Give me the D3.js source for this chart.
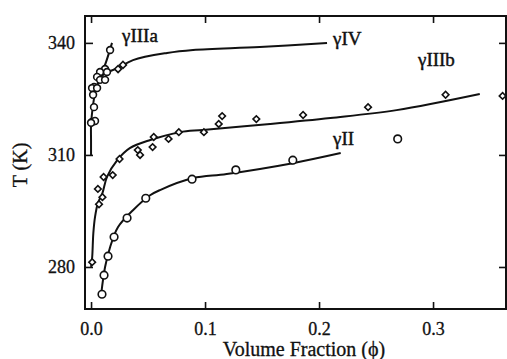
<!DOCTYPE html>
<html>
<head>
<meta charset="utf-8">
<script src="https://cdn.jsdelivr.net/npm/d3@7"></script>
<style>
  html,body{margin:0;padding:0;background:#fff;}
  svg{display:block;font-family:"Liberation Serif","DejaVu Serif",serif;}
  .tick-lab{font-size:18px;fill:#111;stroke:#111;stroke-width:0.3;}
  .ax-title{font-size:20px;fill:#111;stroke:#111;stroke-width:0.3;}
  .cur-lab{font-size:19px;fill:#111;stroke:#111;stroke-width:0.45;}
</style>
</head>
<body>
<svg id="chart" width="507" height="359"></svg>
<script>
// ── data (φ = volume fraction, T in K) ──
// γIIIa : circles, steep branch near φ≈0
const phiIIIa=[0.0167,0.0123,0.0079,0.0053,0.0079,0.0123,0.0026,0.0009,0.0053,0.0018,0.0026,0.0009,0.0035,0.0000,0.0140];
const tIIIa  =[338.1, 333.0, 332.2, 330.9, 330.1, 330.1, 328.2, 327.9, 327.9, 326.1, 322.8, 318.8, 319.1, 318.6, 332.2];
const fitPhiIIIa=[0.0000,0.0000,0.0000,0.0018,0.0044,0.0079,0.0132,0.0184];
const fitTIIIa  =[310.0, 314.0, 318.0, 323.4, 328.0, 330.6, 334.9, 340.0];

// γIV : diamonds
const phiIV=[0.0237,0.0280];
const tIV  =[333.0, 334.1];
const fitPhiIV=[0.0050,0.0105,0.0237,0.0368,0.0667,0.0895,0.1480,0.2070];
const fitTIV  =[328.2, 331.4, 333.3, 335.4, 337.3, 338.1, 338.9, 340.0];

// γIIIb : small diamonds
const phiIIIb=[0.001,0.007,0.010,0.006,0.011,0.019,0.025,0.041,0.043,0.054,0.055,0.068,0.077,0.099,0.112,0.115,0.145,0.186,0.243,0.311,0.361];
const tIIIb  =[281.3,296.8,298.7,300.9,304.1,304.6,308.9,311.3,310.0,312.1,314.8,314.3,316.1,316.1,318.3,320.4,319.6,320.7,322.8,326.1,325.8];
const fitPhiIIIb=[0.000,0.001,0.002,0.0035,0.006,0.010,0.014,0.023,0.034,0.052,0.078,0.098,0.157,0.210,0.268,0.341];
const fitTIIIb  =[280.0,282.6,289.0,293.4,297.1,299.8,304.1,308.6,311.8,314.0,316.1,316.7,318.3,319.9,322.0,326.3];

// γII : circles
const phiII=[0.0096,0.0114,0.0149,0.0202,0.0316,0.048,0.0886,0.127,0.177,0.269];
const tII  =[272.7, 277.8, 282.9, 288.0, 293.1, 298.4,303.5, 306.0,308.6,314.3];
const fitPhiII=[0.0090,0.0123,0.0167,0.0237,0.0368,0.0518,0.0605,0.0895,0.119,0.177,0.219];
const fitTII  =[273.0, 280.0, 285.3, 290.7, 295.2, 299.2, 300.6, 303.8, 304.9,307.8,310.5];

const xTicks=[0.0,0.1,0.2,0.3];
const yTicks=[280,310,340];

// ── layout ──
const L=85,R=506,T=16,B=309;
const svg=d3.select("#chart");
const x=d3.scaleLinear().domain([-0.0053,0.3640]).range([L,R]);
const y=d3.scaleLinear().domain([268.75,347.2]).range([B,T]);

// frame
svg.append("rect").attr("x",L).attr("y",T).attr("width",R-L).attr("height",B-T)
  .attr("fill","none").attr("stroke","#111").attr("stroke-width",2);

// axes with inward ticks (drop d3's default font attrs so the serif css applies)
const ax=(g,a)=>g.call(a).attr("font-family",null).attr("font-size",null)
  .call(s=>s.select(".domain").remove())
  .call(s=>s.selectAll(".tick line").attr("stroke","#111").attr("stroke-width",1.6))
  .call(s=>s.selectAll(".tick text").attr("class","tick-lab").attr("fill",null));
svg.append("g").attr("transform",`translate(0,${B})`)
  .call(g=>ax(g,d3.axisBottom(x).tickValues(xTicks).tickFormat(d3.format(".1f")).tickSizeInner(-7).tickPadding(13)));
svg.append("g").attr("transform",`translate(0,${T})`)
  .call(g=>ax(g,d3.axisTop(x).tickValues(xTicks).tickSizeInner(-7).tickFormat("")));
svg.append("g").attr("transform",`translate(${L},0)`)
  .call(g=>ax(g,d3.axisLeft(y).tickValues(yTicks).tickSizeInner(-8).tickPadding(10)));
svg.append("g").attr("transform",`translate(${R},0)`)
  .call(g=>ax(g,d3.axisRight(y).tickValues(yTicks).tickSizeInner(-7).tickFormat("")));

// axis titles
svg.append("text").attr("class","ax-title").attr("x",304).attr("y",356).attr("text-anchor","middle")
  .text("Volume Fraction (ϕ)");
svg.append("text").attr("class","ax-title").attr("transform","translate(27,165) rotate(-90)")
  .attr("text-anchor","middle").text("T (K)");

// fitted curves
const line=d3.line().x(d=>x(d[0])).y(d=>y(d[1])).curve(d3.curveCatmullRom.alpha(0.5));
const curves=[[fitPhiIIIa,fitTIIIa],[fitPhiIV,fitTIV],[fitPhiIIIb,fitTIIIb],[fitPhiII,fitTII]];
svg.append("g").selectAll("path").data(curves).join("path")
  .attr("d",([p,t])=>line(d3.zip(p,t)))
  .attr("fill","none").attr("stroke","#111").attr("stroke-width",2);

// markers
const circ=(p,t,r)=>svg.append("g").selectAll("circle").data(d3.zip(p,t)).join("circle")
  .attr("cx",d=>x(d[0])).attr("cy",d=>y(d[1])).attr("r",r)
  .attr("fill","#fff").attr("stroke","#111").attr("stroke-width",1.6);
const diam=(p,t,s)=>svg.append("g").selectAll("path").data(d3.zip(p,t)).join("path")
  .attr("d",d3.symbol(d3.symbolSquare,s))
  .attr("transform",d=>`translate(${x(d[0])},${y(d[1])}) rotate(45)`)
  .attr("fill","#fff").attr("stroke","#111").attr("stroke-width",1.6);
diam(phiIIIb,tIIIb,22);
diam(phiIV,tIV,24);
circ(phiIIIa,tIIIa,3.4);
circ(phiII,tII,3.8);

// curve labels
const labs=[["γIIIa",0.0272,340.3],["γIV",0.2123,339.5],["γIIIb",0.2868,333.8],["γII",0.2123,312.7]];
svg.append("g").selectAll("text").data(labs).join("text").attr("class","cur-lab")
  .attr("x",d=>x(d[1])).attr("y",d=>y(d[2])).text(d=>d[0]);
</script>
</body>
</html>
